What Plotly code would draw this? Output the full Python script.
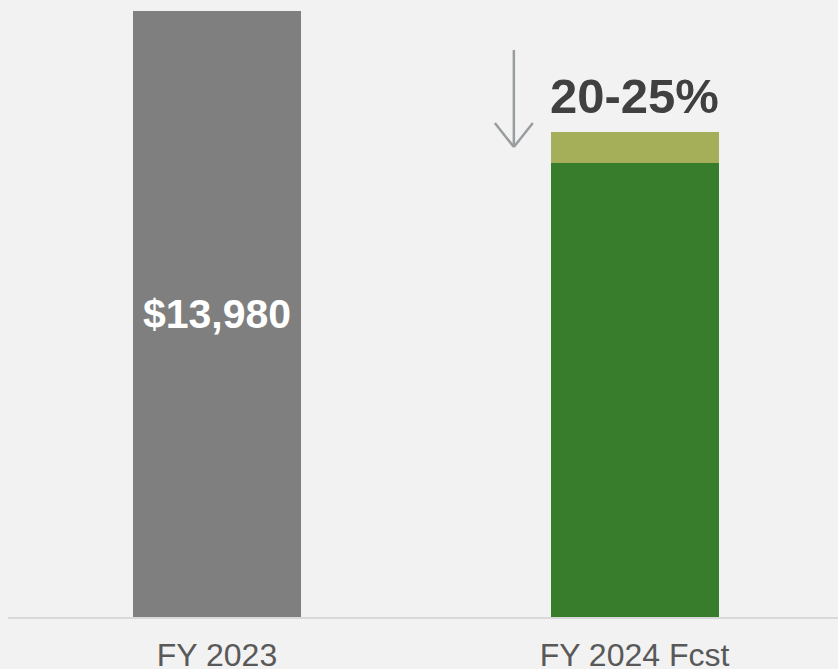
import plotly.graph_objects as go

categories = ["FY 2023", "FY 2024 Fcst"]
base_values = [13980, 10485]      # gray actual / green low-end forecast
band_values = [0, 699]            # olive band (20%-25% decline range)
bar_labels = ["$13,980", ""]
change_label = "20-25%"

x_pos = [0, 1]
colors_base = ["#7f7f7f", "#387d2b"]
y_max = 14234

fig = go.Figure()
fig.add_trace(go.Bar(
    x=x_pos, y=base_values, width=0.4024,
    marker=dict(color=colors_base, line=dict(width=0)),
    text=bar_labels, textposition="inside", insidetextanchor="middle",
    textfont=dict(family="Liberation Sans, Arial, sans-serif", size=41, color="white", weight="bold"),
    hoverinfo="skip", showlegend=False,
))
fig.add_trace(go.Bar(
    x=x_pos, y=band_values, width=0.4024,
    marker=dict(color="#a5ae59", line=dict(width=0)),
    hoverinfo="skip", showlegend=False,
))

total_fcst = base_values[1] + band_values[1]
fig.add_annotation(
    x=1, y=total_fcst, xref="x", yref="y", text=f"<b>{change_label}</b>",
    showarrow=False, xanchor="center", yanchor="bottom", yshift=7,
    font=dict(family="Liberation Sans, Arial, sans-serif", size=49, color="#404040"),
)

# down arrow (decoration) next to forecast bar
ax = 0.711
arrow_col = "#9a9da0"
fig.add_shape(type="line", xref="x", yref="y", x0=ax, x1=ax, y0=13080, y1=10842,
              line=dict(color=arrow_col, width=2.5))
fig.add_shape(type="line", xref="x", yref="y", x0=ax - 0.0455, x1=ax, y0=11396, y1=10842,
              line=dict(color=arrow_col, width=2.5))
fig.add_shape(type="line", xref="x", yref="y", x0=ax + 0.0455, x1=ax, y0=11396, y1=10842,
              line=dict(color=arrow_col, width=2.5))

fig.update_layout(
    width=838, height=669,
    margin=dict(l=8, r=0, t=0, b=52, autoexpand=False),
    barmode="stack",
    paper_bgcolor="#f2f2f2", plot_bgcolor="#f2f2f2",
    xaxis=dict(
        range=[-0.5006, 1.4874], tickvals=x_pos, ticktext=categories, automargin=False,
        showgrid=False, zeroline=False, showline=True, linecolor="#d9d9d9", linewidth=2,
        ticks="outside", ticklen=9, tickcolor="rgba(0,0,0,0)",
        tickfont=dict(family="Liberation Sans, Arial, sans-serif", size=32, color="#595959"),
    ),
    yaxis=dict(range=[0, y_max], visible=False, showgrid=False, zeroline=False, automargin=False),
)

fig.write_html("out.html", config={"displayModeBar": False},
               post_script="document.body.style.margin='0';document.body.style.background='#f2f2f2';")
